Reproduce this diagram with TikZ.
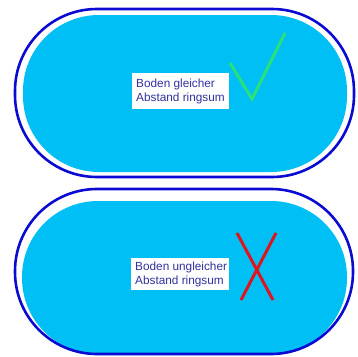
\documentclass[tikz,border=0pt]{standalone}
\usepackage{fontspec}
\setmainfont{Liberation Sans}
\definecolor{poolblue}{RGB}{0,191,245}
\definecolor{rimblue}{RGB}{10,10,210}
\definecolor{txtblue}{RGB}{50,50,160}
\definecolor{okgreen}{RGB}{40,225,120}
\definecolor{badred}{RGB}{225,20,30}
\begin{document}
\begin{tikzpicture}[x=1pt,y=-1pt,
  rim/.style={draw=rimblue,line width=2.6pt},
  pool/.style={fill=poolblue},
  labelbox/.style={fill=white,inner sep=0pt},
  labeltext/.style={font=\fontsize{11.8}{14}\selectfont,text=txtblue,align=left,inner sep=0pt,anchor=west},
  signline/.style={line width=3pt}]
\useasboundingbox (0,0) rectangle (358,356);
% top pool
\draw[rim, rounded corners=82pt] (15,9) rectangle (354,177);
\fill[pool, rounded corners=76pt] (23,15) rectangle (347,172);
\node[labelbox, minimum width=97pt, minimum height=36pt] (box1) at (180.5,91) {};
\node[labeltext] (t1) at (136,91) {Boden gleicher\\Abstand ringsum};
\coordinate (c1) at (230,63);
\coordinate (c2) at (252,99);
\coordinate (c3) at (285,33);
\draw[signline, draw=okgreen] (c1) -- (c2) -- (c3);
% bottom pool
\fill[pool, rounded corners=76pt] (22,201) rectangle (347,354);
\draw[rim, rounded corners=82pt] (15,189) rectangle (353,354);
\node[labelbox, minimum width=98pt, minimum height=32pt] (box2) at (180,274) {};
\node[labeltext] (t2) at (135,274) {Boden ungleicher\\Abstand ringsum};
\coordinate (x1) at (237,233);
\coordinate (x2) at (273,300);
\coordinate (x3) at (276,233);
\coordinate (x4) at (241,300);
\draw[signline, draw=badred] (x1) -- (x2);
\draw[signline, draw=badred] (x3) -- (x4);
\end{tikzpicture}
\end{document}
